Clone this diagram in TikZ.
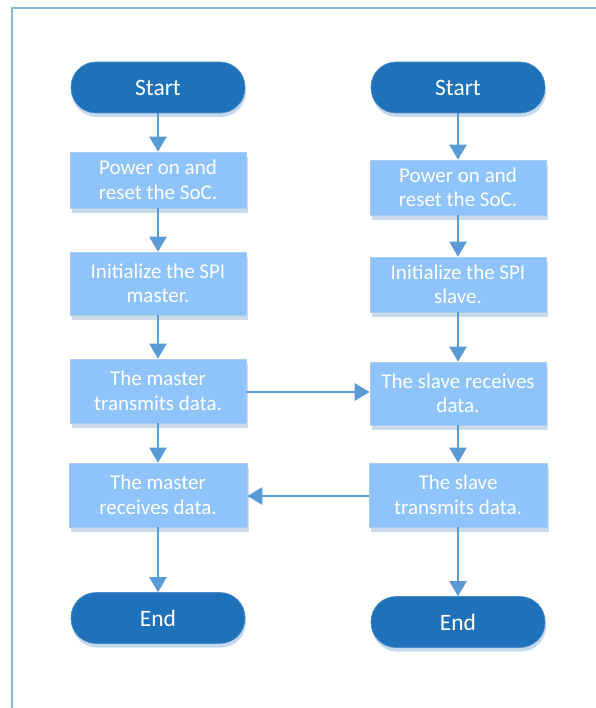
\documentclass[tikz,border=0pt]{standalone}
\usepackage{fontspec}
\setmainfont{Carlito}
\usetikzlibrary{arrows.meta,shadows,positioning}
\definecolor{termfill}{HTML}{1F71B9}
\definecolor{termshadow}{HTML}{C6DAEF}
\definecolor{procfill}{HTML}{8EC3FB}
\definecolor{procdraw}{HTML}{A9CDF2}
\definecolor{procshadow}{HTML}{CCDBEA}
\definecolor{arrowcol}{HTML}{5B9BD5}
\definecolor{framecol}{HTML}{85B8DE}
\tikzset{
  term/.style={draw=termfill!80!white, line width=0.6pt, fill=termfill, rounded corners=25pt,
    minimum width=174pt, minimum height=51pt, inner sep=0pt, text=white,
    font=\fontsize{23.5}{26}\selectfont,
    drop shadow={shadow xshift=1pt, shadow yshift=-4pt, fill=termshadow, opacity=1}},
  proc/.style={draw=procdraw, line width=0.6pt, fill=procfill, minimum width=176pt,
    inner sep=0pt, text=white, align=center, font=\fontsize{21}{24.5}\selectfont,
    drop shadow={shadow xshift=2pt, shadow yshift=-5pt, fill=procshadow, opacity=1}},
  flow/.style={draw=arrowcol, line width=2.4pt, -{Triangle[width=17pt,length=15pt]}},
}
\begin{document}
\begin{tikzpicture}[x=1pt,y=-1pt]
\useasboundingbox (0,0) rectangle (595,708);
\draw[framecol, line width=2pt] (12,710) -- (12,8) -- (597,8);
% left column
\node[term] (startL) at (158,87.5) {Start};
\node[proc, minimum height=56pt] (powerL) at (158,180) {Power on and\\reset the SoC.};
\node[proc, minimum height=63pt] (initL) at (158,283.5) {Initialize the SPI\\master.};
\node[proc, minimum height=64pt] (transL) at (158,391) {The master\\transmits data.};
\node[proc, minimum height=64pt, minimum width=178pt] (recvL) at (158,495) {The master\\receives data.};
\node[term] (endL) at (158,618) {End};
% right column
\node[term] (startR) at (458,87.5) {Start};
\node[proc, minimum height=55pt] (powerR) at (458,187.5) {Power on and\\reset the SoC.};
\node[proc, minimum height=55pt] (initR) at (458,284.5) {Initialize the SPI\\slave.};
\node[proc, minimum height=63pt] (recvR) at (458,393.5) {The slave receives\\data.};
\node[proc, minimum height=64pt, minimum width=178pt] (transR) at (458,495) {The slave\\transmits data.};
\node[term] (endR) at (458,622) {End};
% connectors
\draw[flow] (startL) -- (powerL);
\draw[flow] (powerL) -- (initL);
\draw[flow] (initL) -- (transL);
\draw[flow] (transL) -- (recvL);
\draw[flow] (recvL) -- (endL);
\draw[flow] (startR) -- (powerR);
\draw[flow] (powerR) -- (initR);
\draw[flow] (initR) -- (recvR);
\draw[flow] (recvR) -- (transR);
\draw[flow] (transR) -- (endR);
\draw[flow] ([yshift=-1pt]transL.east) -- ([yshift=-1pt]transL.east -| recvR.west);
\draw[flow] ([yshift=-1pt]transR.west) -- ([yshift=-1pt]transR.west -| recvL.east);
\end{tikzpicture}
\end{document}
